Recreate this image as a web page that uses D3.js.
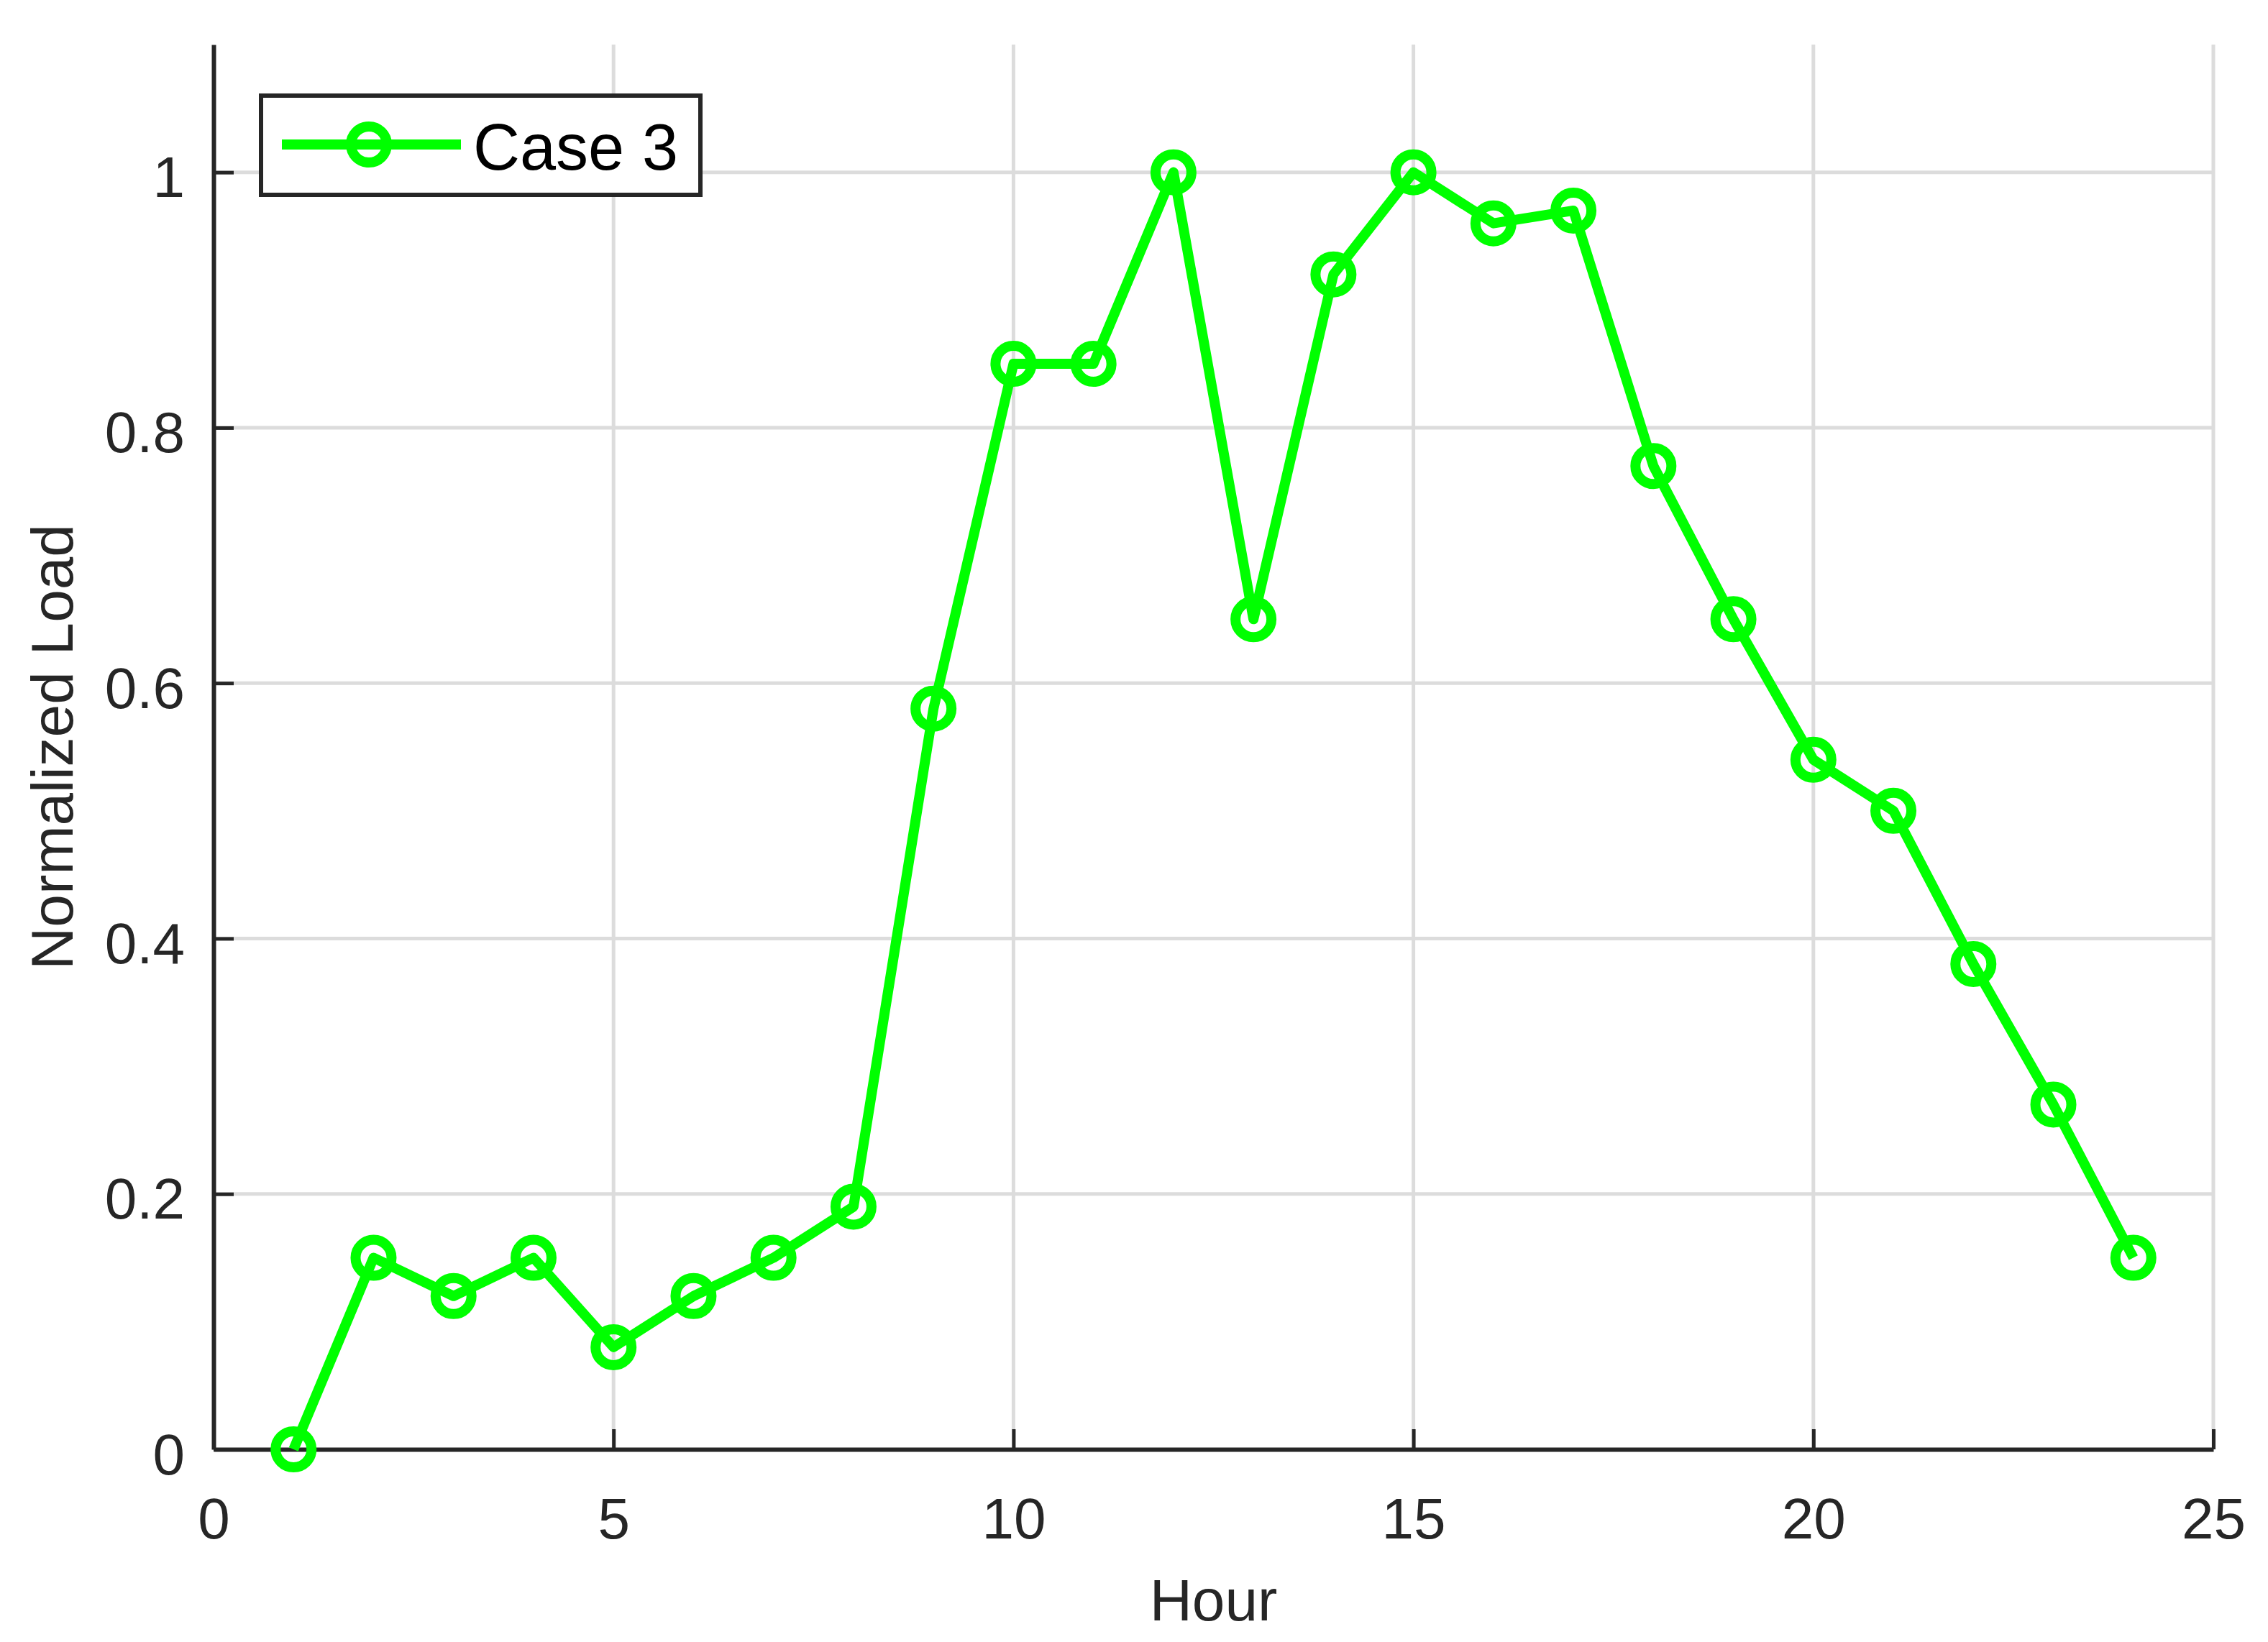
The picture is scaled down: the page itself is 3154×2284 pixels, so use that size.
<!DOCTYPE html>
<html>
<head>
<meta charset="utf-8">
<script src="https://cdn.jsdelivr.net/npm/d3@7"></script>
<style>
  body { margin: 0; background: #fff; }
  text { font-family: "Liberation Sans", Arial, sans-serif; }
</style>
</head>
<body>
<div id="chart"></div>
<script>
// hours and normalized load
var hours = [1, 2, 3, 4, 5, 6, 7, 8, 9, 10, 11, 12, 13, 14, 15, 16, 17, 18, 19, 20, 21, 22, 23, 24];
var load = [0, 0.15, 0.12, 0.15, 0.08, 0.12, 0.15, 0.19, 0.58, 0.85, 0.85, 1.0,
            0.65, 0.92, 1.0, 0.96, 0.97, 0.77, 0.65, 0.54, 0.50, 0.38, 0.27, 0.15];
var xTicks = [0, 5, 10, 15, 20, 25];
var yTicks = [0, 0.2, 0.4, 0.6, 0.8, 1];
var seriesName = "Case 3";

var width = 3154, height = 2284;
var margin = {top: 62, right: 76, bottom: 268, left: 297};
var green = "#00ff00", axisColor = "#262626";

var svg = d3.select("#chart").append("svg")
    .attr("width", width)
    .attr("height", height);

// scales
var x = d3.scaleLinear().domain([0, 25]).range([margin.left, width - margin.right]);
var y = d3.scaleLinear().domain([0, 1.1]).range([height - margin.bottom, margin.top]);

// grid
var grid = svg.append("g").attr("class", "grid");
grid.selectAll(".vgrid")
    .data(xTicks.slice(1))
  .enter().append("line")
    .attr("x1", function(d) { return x(d); })
    .attr("x2", function(d) { return x(d); })
    .attr("y1", y(0))
    .attr("y2", y(1.1))
    .attr("stroke", "#dcdcdc")
    .attr("stroke-width", 5);
grid.selectAll(".hgrid")
    .data(yTicks.slice(1))
  .enter().append("line")
    .attr("x1", x(0))
    .attr("x2", x(25))
    .attr("y1", function(d) { return y(d); })
    .attr("y2", function(d) { return y(d); })
    .attr("stroke", "#dcdcdc")
    .attr("stroke-width", 5);

// axes, ticks pointing inward like matlab
var xAxis = svg.append("g")
    .attr("transform", "translate(0," + y(0) + ")")
    .call(d3.axisBottom(x).tickValues(xTicks).tickSize(-28).tickPadding(0).tickSizeOuter(0)
      .tickFormat(d3.format("d")));
xAxis.select(".domain").attr("stroke", axisColor).attr("stroke-width", 6);
xAxis.selectAll(".tick line").attr("stroke", axisColor).attr("stroke-width", 5);
xAxis.selectAll(".tick text")
    .attr("y", 124)
    .attr("dy", 0)
    .attr("fill", axisColor)
    .style("font-size", "80px");

var yAxis = svg.append("g")
    .attr("transform", "translate(" + x(0) + ",0)")
    .call(d3.axisLeft(y).tickValues(yTicks).tickSize(-28).tickPadding(0).tickSizeOuter(0)
      .tickFormat(function(d) { return d3.format("")(+d.toFixed(1)); }));
yAxis.select(".domain").attr("stroke", axisColor).attr("stroke-width", 6);
yAxis.selectAll(".tick line").attr("stroke", axisColor).attr("stroke-width", 5);
yAxis.selectAll(".tick text")
    .attr("x", -40)
    .attr("dy", 34)
    .attr("fill", axisColor)
    .style("font-size", "80px");

// axis labels
svg.append("text")
    .attr("x", (x(0) + x(25)) / 2)
    .attr("y", 2254)
    .attr("text-anchor", "middle")
    .attr("fill", axisColor)
    .style("font-size", "82px")
    .text("Hour");

svg.append("text")
    .attr("transform", "translate(101," + y(0.55) + ") rotate(-90)")
    .attr("text-anchor", "middle")
    .attr("fill", axisColor)
    .style("font-size", "82px")
    .text("Normalized Load");

// line + markers
var line = d3.line()
    .x(function(d, i) { return x(hours[i]); })
    .y(function(d) { return y(d); });

svg.append("path")
    .datum(load)
    .attr("d", line)
    .attr("fill", "none")
    .attr("stroke", green)
    .attr("stroke-width", 14)
    .attr("stroke-linejoin", "round");

svg.selectAll(".dot")
    .data(load)
  .enter().append("circle")
    .attr("class", "dot")
    .attr("cx", function(d, i) { return x(hours[i]); })
    .attr("cy", function(d) { return y(d); })
    .attr("r", 25)
    .attr("fill", "none")
    .attr("stroke", green)
    .attr("stroke-width", 14);

// legend
var legend = svg.append("g").attr("class", "legend");
legend.append("rect")
    .attr("x", 363)
    .attr("y", 133)
    .attr("width", 611)
    .attr("height", 138)
    .attr("fill", "#fff")
    .attr("stroke", axisColor)
    .attr("stroke-width", 6);
legend.append("line")
    .attr("x1", 392).attr("x2", 641)
    .attr("y1", 201).attr("y2", 201)
    .attr("stroke", green)
    .attr("stroke-width", 14);
legend.append("circle")
    .attr("cx", 513).attr("cy", 201)
    .attr("r", 25)
    .attr("fill", "none")
    .attr("stroke", green)
    .attr("stroke-width", 14);
legend.append("text")
    .attr("x", 658)
    .attr("y", 236)
    .attr("fill", "#000")
    .style("font-size", "90px")
    .text(seriesName);
</script>
</body>
</html>
